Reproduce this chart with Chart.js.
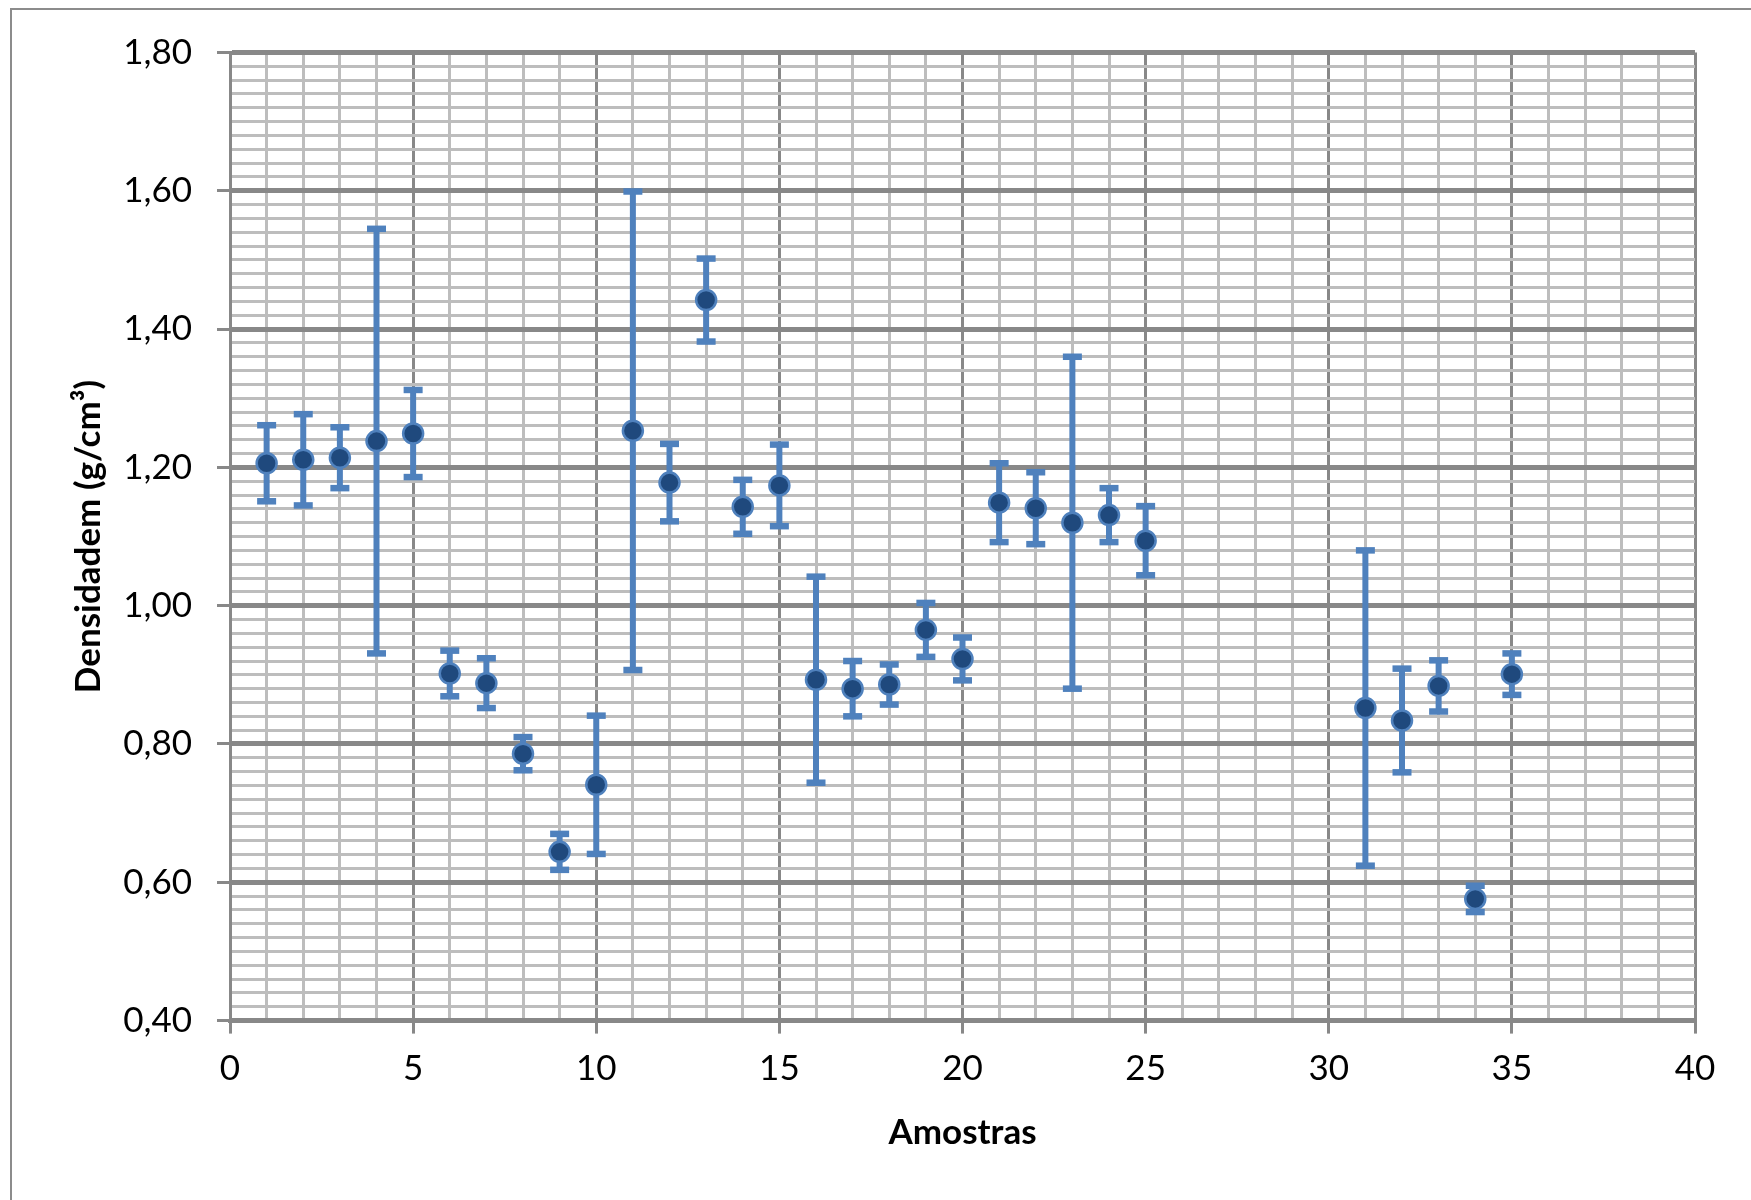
<!DOCTYPE html>
<html lang="pt">

<head>
    <meta charset="UTF-8">
    <title>Densidade das amostras</title>
    <script src="https://cdn.jsdelivr.net/npm/chart.js"></script>
    <style>
        body {
            margin: 0;
            background: #fff;
            overflow: hidden;
        }

        #moldura {
            position: absolute;
            left: 10px;
            top: 8px;
            width: 1900px;
            height: 1400px;
            border: 2px solid #8c8c8c;
        }

        #chart-container {
            position: absolute;
            left: 0;
            top: 0;
            width: 1751px;
            height: 1200px;
        }
    </style>
</head>

<body>
    <div id="moldura"></div>
    <div id="chart-container">
        <canvas id="densidadeChart"></canvas>
    </div>

    <script>
        // amostras 26 a 30 sem medida
        const amostras = [1, 2, 3, 4, 5, 6, 7, 8, 9, 10, 11, 12, 13, 14, 15, 16, 17, 18, 19, 20, 21, 22, 23, 24, 25, 31, 32, 33, 34, 35];
        const densidade = [1.206, 1.211, 1.214, 1.238, 1.249, 0.902, 0.888, 0.786, 0.644, 0.741,
            1.253, 1.178, 1.442, 1.143, 1.174, 0.893, 0.880, 0.886, 0.965, 0.923,
            1.149, 1.141, 1.120, 1.131, 1.094, 0.852, 0.834, 0.884, 0.576, 0.901];
        // desvio padrão (barra de erro simétrica)
        const erro = [0.055, 0.066, 0.044, 0.307, 0.063, 0.033, 0.036, 0.024, 0.026, 0.100,
            0.346, 0.056, 0.060, 0.039, 0.059, 0.149, 0.040, 0.029, 0.039, 0.031,
            0.057, 0.052, 0.240, 0.039, 0.050, 0.228, 0.075, 0.037, 0.019, 0.030];

        const eixoX = { min: 0, max: 40, passo: 1, principal: 5 };
        const eixoY = { min: 0.40, max: 1.80, passo: 0.02, principal: 0.20 };

        const escuro = '#888888';
        const claro = '#bdbdbd';
        const azul = '#4f81bd';
        const fonte = 'Lato, "Open Sans", sans-serif';

        const pontos = amostras.map((a, i) => ({ x: a, y: densidade[i] }));

        function ehPrincipalX(v) {
            return Math.round(v) % eixoX.principal === 0;
        }

        function ehPrincipalY(v) {
            return Math.round(v * 100) % Math.round(eixoY.principal * 100) === 0;
        }

        // barras de erro desenhadas antes dos pontos
        const barrasErro = {
            id: 'barrasErro',
            beforeDatasetsDraw(chart) {
                const { ctx, scales: { x, y } } = chart;
                ctx.save();
                ctx.strokeStyle = azul;
                ctx.fillStyle = azul;
                ctx.lineWidth = 6;
                amostras.forEach((a, i) => {
                    const px = x.getPixelForValue(a);
                    const cima = y.getPixelForValue(densidade[i] + erro[i]);
                    const baixo = y.getPixelForValue(densidade[i] - erro[i]);
                    ctx.beginPath();
                    ctx.moveTo(px, cima);
                    ctx.lineTo(px, baixo);
                    ctx.stroke();
                    ctx.fillRect(px - 9.5, cima - 3.25, 19, 6.5);
                    ctx.fillRect(px - 9.5, baixo - 3.25, 19, 6.5);
                });
                ctx.restore();
            }
        };

        new Chart(document.getElementById('densidadeChart'), {
            type: 'scatter',
            data: {
                datasets: [{
                    label: 'Densidade',
                    data: pontos,
                    backgroundColor: '#1f497d',
                    borderColor: azul,
                    borderWidth: 2.5,
                    pointRadius: 10,
                    showLine: false
                }]
            },
            options: {
                responsive: true,
                maintainAspectRatio: false,
                animation: false,
                layout: {
                    padding: { left: 0, top: 52.5, right: 56, bottom: 0 }
                },
                plugins: {
                    legend: { display: false },
                    tooltip: { enabled: false }
                },
                scales: {
                    x: {
                        type: 'linear',
                        min: eixoX.min,
                        max: eixoX.max,
                        afterFit: s => { s.height = 179.4; },
                        ticks: {
                            stepSize: eixoX.passo,
                            autoSkip: false,
                            maxRotation: 0,
                            padding: 14,
                            color: '#000',
                            font: { family: fonte, size: 35 },
                            callback: v => ehPrincipalX(v) ? String(v) : ''
                        },
                        grid: {
                            color: c => ehPrincipalX(c.tick.value) ? escuro : claro,
                            lineWidth: 3,
                            tickColor: c => ehPrincipalX(c.tick.value) ? escuro : 'rgba(0,0,0,0)',
                            tickWidth: 3,
                            tickLength: 13
                        },
                        border: { color: escuro, width: 4 },
                        title: {
                            display: true,
                            text: 'Amostras',
                            color: '#000',
                            font: { family: fonte, size: 35, weight: 'bold' },
                            padding: { top: 46, bottom: 46 }
                        }
                    },
                    y: {
                        type: 'linear',
                        min: eixoY.min,
                        max: eixoY.max,
                        afterFit: s => { s.width = 230; },
                        ticks: {
                            stepSize: eixoY.passo,
                            autoSkip: false,
                            padding: 25,
                            color: '#000',
                            font: { family: fonte, size: 35 },
                            callback: v => ehPrincipalY(v) ? v.toFixed(2).replace('.', ',') : ''
                        },
                        grid: {
                            color: c => ehPrincipalY(c.tick.value) ? escuro : claro,
                            lineWidth: c => ehPrincipalY(c.tick.value) ? 5 : 3,
                            tickColor: c => ehPrincipalY(c.tick.value) ? escuro : 'rgba(0,0,0,0)',
                            tickWidth: 3,
                            tickLength: 13
                        },
                        border: { color: escuro, width: 3 },
                        title: {
                            display: true,
                            text: 'Densidadem (g/cm³)',
                            color: '#000',
                            font: { family: fonte, size: 35, weight: 'bold' },
                            padding: { top: 68, bottom: 68 }
                        }
                    }
                }
            },
            plugins: [barrasErro]
        });
    </script>
</body>

</html>
